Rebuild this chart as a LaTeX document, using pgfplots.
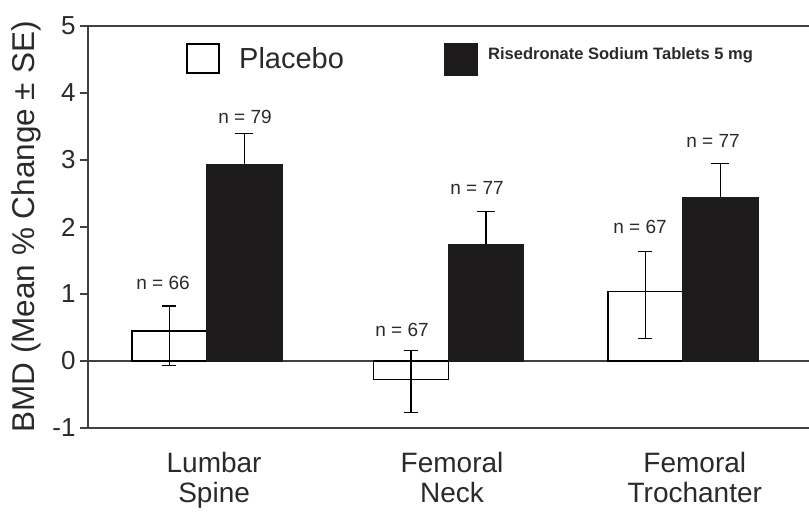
\documentclass[border=0pt]{standalone}
\usepackage{pgfplots}
\pgfplotsset{compat=1.18}
\usepackage{fontspec}
\setmainfont{Liberation Sans}
\definecolor{axgray}{HTML}{404040}
\definecolor{txt}{HTML}{2A2A2A}
\definecolor{barblack}{HTML}{1C1A1A}
\begin{document}
\begin{tikzpicture}[x=1pt,y=1pt]
\useasboundingbox (0,0) rectangle (809,515);
\begin{axis}[
  at={(88pt,87pt)}, anchor=south west,
  scale only axis, width=721pt, height=402pt,
  xmin=-0.5, xmax=2.53, ymin=-1, ymax=5,
  axis x line*=box, axis y line*=left,
  axis line style={axgray, line width=2pt},
  ytick={-1,0,1,2,3,4,5},
  ytick pos=left,
  tick align=outside,
  major tick length=8pt,
  ytick style={axgray, line width=1.6pt},
  yticklabel style={font=\fontsize{26}{26}\selectfont, text=txt, xshift=-1pt},
  /pgf/number format/assume math mode=true,
  xtick={0.03,1.03,2.05},
  xticklabels={Lumbar\\Spine, Femoral\\Neck, Femoral\\Trochanter},
  xtick style={draw=none},
  xticklabel style={font=\fontsize{28}{30}\selectfont, text=txt, align=center, yshift=-13pt},
  ylabel={BMD (Mean \% Change ± SE)},
  every axis y label/.style={at={(axis description cs:0,0.5)}, rotate=90, anchor=center, yshift=62pt},
  ylabel style={font=\fontsize{31.5}{31.5}\selectfont, text=txt},
  ybar, bar width=0.315,
  clip=false,
]
\draw[axgray, line width=2pt] (axis cs:-0.5,0) -- (axis cs:2.53,0);
% Placebo
\addplot[draw=black, fill=white, line width=1.4pt, bar shift=-0.1575,
  error bars/.cd, y dir=both, y explicit,
  error bar style={black, line width=1.4pt},
  error mark options={rotate=90, mark size=7pt, line width=1.4pt}]
  coordinates {
    (0,0.45) += (0,0.37) -= (0,0.52)
    (1.015,-0.28) += (0,0.44) -= (0,0.49)
    (2,1.04) += (0,0.59) -= (0,0.70)
  };
% Risedronate
\addplot[draw=barblack, fill=barblack, line width=1.4pt, bar shift=0.1575,
  error bars/.cd, y dir=plus, y explicit,
  error bar style={black, line width=1.4pt},
  error mark options={rotate=90, mark size=9pt, line width=1.4pt}]
  coordinates {
    (0,2.93) +- (0,0.47)
    (1.015,1.74) +- (0,0.49)
    (2,2.43) +- (0,0.52)
  };
\end{axis}
% n labels
\begin{scope}[every node/.style={font=\fontsize{19}{19}\selectfont, text=txt, inner sep=0pt}]
\node at (163,232) {n = 66};
\node at (245,398) {n = 79};
\node at (402,185) {n = 67};
\node at (477,327) {n = 77};
\node at (640,288) {n = 67};
\node at (713,374) {n = 77};
\end{scope}
% legend
\draw[black, line width=2pt] (187,442) rectangle (219,471);
\node[anchor=west, inner sep=0pt, font=\fontsize{29}{29}\selectfont, text=txt] at (239,457) {Placebo};
\fill[barblack] (444,439) rectangle (478,472);
\node[anchor=west, inner sep=0pt, font=\fontsize{16.5}{16.5}\selectfont\bfseries, text=txt] at (488,460) {Risedronate Sodium Tablets 5 mg};
\end{tikzpicture}
\end{document}
